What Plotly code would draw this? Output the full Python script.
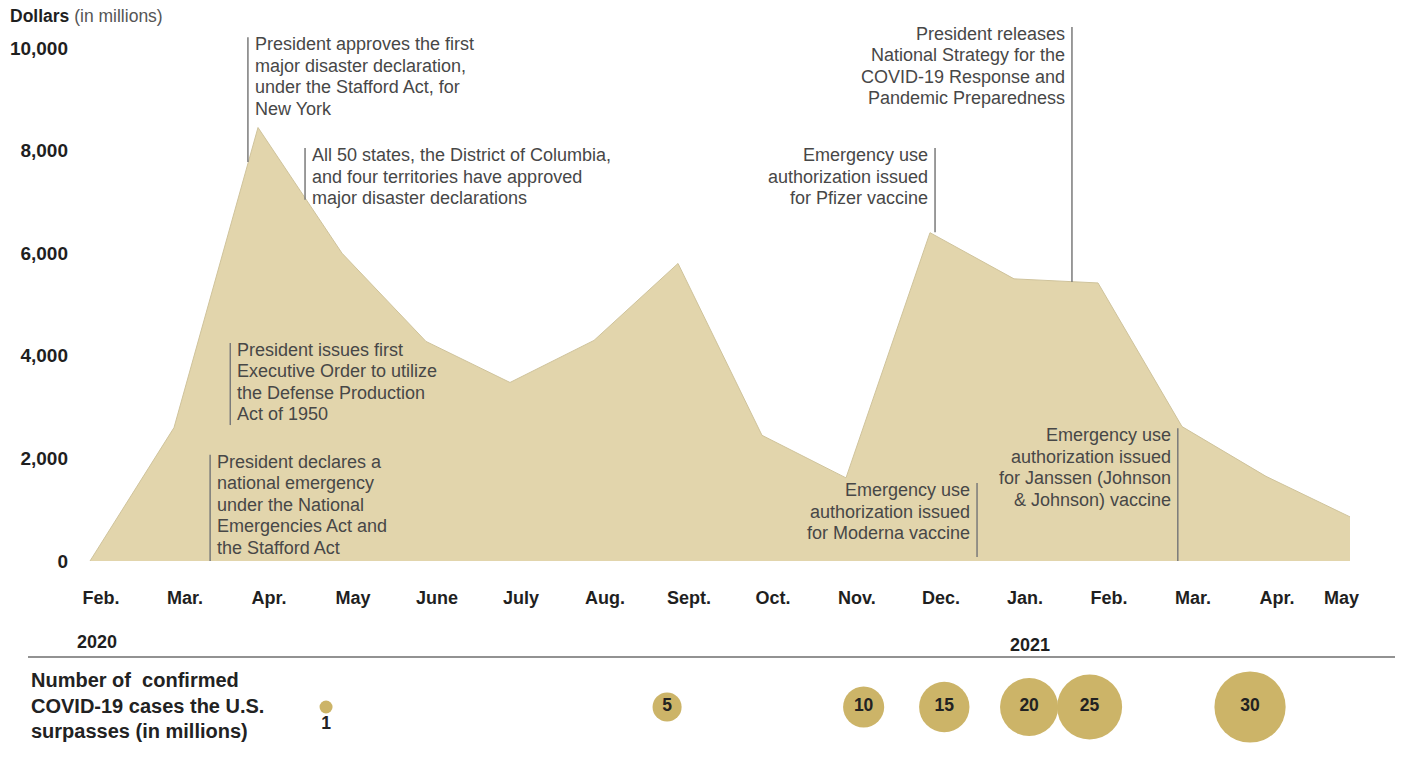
import plotly.graph_objects as go

# ---------------- data ----------------
months = ["Feb.", "Mar.", "Apr.", "May", "June", "July", "Aug.", "Sept.",
          "Oct.", "Nov.", "Dec.", "Jan.", "Feb.", "Mar.", "Apr.", "May"]
dollars = [0, 2600, 8450, 6000, 4280, 3480, 4300, 5800,
           2450, 1620, 6400, 5500, 5420, 2620, 1650, 860]

years = ["2020", "2021"]
year_month_pos = [0.08, 11.19]

y_ticks = [0, 2000, 4000, 6000, 8000, 10000]

event_texts = [
    "President declares a\nnational emergency\nunder the National\nEmergencies Act and\nthe Stafford Act",
    "President issues first\nExecutive Order to utilize\nthe Defense Production\nAct of 1950",
    "President approves the first\nmajor disaster declaration,\nunder the Stafford Act, for\nNew York",
    "All 50 states, the District of Columbia,\nand four territories have approved\nmajor disaster declarations",
    "Emergency use\nauthorization issued\nfor Pfizer vaccine",
    "Emergency use\nauthorization issued\nfor Moderna vaccine",
    "President releases\nNational Strategy for the\nCOVID-19 Response and\nPandemic Preparedness",
    "Emergency use\nauthorization issued\nfor Janssen (Johnson\n& Johnson) vaccine",
]
event_x = [1.43, 1.67, 1.88, 2.56, 10.06, 10.56, 11.69, 12.95]
event_y_low = [0, 2650, 7780, 7040, 6410, 80, 5440, 0]
event_y_high = [2070, 4250, 10210, 8050, 8050, 1520, 10410, 2590]
event_text_side = ["right", "right", "right", "right", "left", "left", "left", "left"]

cases_millions = [1, 5, 10, 15, 20, 25, 30]
cases_x = [2.81, 6.87, 9.21, 10.17, 11.18, 11.90, 13.81]

# ---------------- style ----------------
FONT = "Liberation Sans, Arial, sans-serif"
AREA_FILL = "#E2D5AC"
AREA_LINE = "#CFC39B"
BUBBLE = "#CCB468"
TEXT_DARK = "#1f1f1f"
TEXT_NOTE = "#474747"
RULE = "#7a7a7a"

W, H = 1411, 759
L_MARGIN = 69
X0_PX = 90.0
PX_PER_MONTH = 84.0
ZERO_PX = 561.0
PX_PER_UNIT = 513.0 / 10000.0
AXIS_BOTTOM_PX = 585.0

x_idx = list(range(len(months)))

fig = go.Figure()

fig.add_trace(go.Scatter(
    x=x_idx, y=dollars, mode="lines", fill="tozeroy",
    fillcolor=AREA_FILL, line=dict(color=AREA_LINE, width=1),
    hoverinfo="skip", showlegend=False,
))

fig.add_trace(go.Scatter(
    x=cases_x, y=[0] * len(cases_millions), yaxis="y2",
    mode="markers+text",
    marker=dict(size=cases_millions, sizemode="area", sizeref=0.01183,
                color=BUBBLE, opacity=1, line=dict(width=0)),
    text=[str(v) for v in cases_millions],
    textposition=["bottom center"] + ["middle center"] * (len(cases_millions) - 1),
    textfont=dict(family=FONT, size=17.5, color="#222222", weight="bold"),
    hoverinfo="skip", showlegend=False, cliponaxis=False,
))

shapes = []
annotations = []

LINE_GAP = 21.5
for txt, ex, ylo, yhi, side in zip(event_texts, event_x, event_y_low, event_y_high, event_text_side):
    shapes.append(dict(type="line", xref="x", yref="y", x0=ex, x1=ex, y0=ylo, y1=yhi,
                       line=dict(color=RULE, width=1.5)))
    for k, line in enumerate(txt.split("\n")):
        annotations.append(dict(
            x=ex, y=yhi, xref="x", yref="y", text=line, showarrow=False,
            xanchor="left" if side == "right" else "right", yanchor="middle",
            xshift=5 if side == "right" else -5,
            yshift=-(7 + k * LINE_GAP),
            font=dict(family=FONT, size=18, color=TEXT_NOTE),
        ))

plot_w = W - L_MARGIN
def px_to_paper_x(px):
    return (px - L_MARGIN) / plot_w
def py_to_paper_y(py):
    return (H - py) / H

# axis title
annotations.append(dict(
    x=px_to_paper_x(8), y=py_to_paper_y(16), xref="paper", yref="paper",
    xanchor="left", yanchor="middle", showarrow=False,
    text="<b>Dollars</b> <span style='color:#555555'>(in millions)</span>",
    font=dict(family=FONT, size=17.5, color=TEXT_DARK),
))

# year labels
for yr, pos, py in zip(years, year_month_pos, [642, 645]):
    annotations.append(dict(
        x=pos, y=py_to_paper_y(py), xref="x", yref="paper", text=yr,
        showarrow=False, xanchor="center", yanchor="middle",
        font=dict(family=FONT, size=18, color=TEXT_DARK, weight="bold"),
    ))

# left label for bubble row
bubble_label_lines = ["Number of\u00a0 confirmed", "COVID-19 cases the U.S.", "surpasses (in millions)"]
for k, line in enumerate(bubble_label_lines):
    annotations.append(dict(
        x=px_to_paper_x(29), y=py_to_paper_y(680 + k * 25.5), xref="paper", yref="paper",
        text=line, showarrow=False, xanchor="left", yanchor="middle",
        font=dict(family=FONT, size=20, color="#222222", weight="bold"),
    ))

# horizontal rule
shapes.append(dict(type="line", xref="paper", yref="paper",
                   x0=px_to_paper_x(28), x1=px_to_paper_x(1395),
                   y0=py_to_paper_y(657), y1=py_to_paper_y(657),
                   line=dict(color="#6e6e6e", width=1.5)))

x_range = [-(X0_PX - L_MARGIN) / PX_PER_MONTH, (W - X0_PX) / PX_PER_MONTH]
y_top_val = ZERO_PX / PX_PER_UNIT
y_bot_val = (ZERO_PX - AXIS_BOTTOM_PX) / PX_PER_UNIT
y_domain_bottom = (H - AXIS_BOTTOM_PX) / H

tick_pos = [i + 0.13 for i in x_idx[:-1]] + [x_idx[-1] - 0.1]

fig.update_layout(
    width=W, height=H,
    margin=dict(l=L_MARGIN, r=0, t=0, b=0),
    paper_bgcolor="white", plot_bgcolor="white",
    showlegend=False,
    font=dict(family=FONT),
    xaxis=dict(range=x_range, tickvals=tick_pos, ticktext=months,
               showgrid=False, zeroline=False, showline=False, ticks="",
               tickfont=dict(family=FONT, size=18, color=TEXT_DARK, weight="bold"),
               fixedrange=True),
    yaxis=dict(domain=[y_domain_bottom, 1], range=[y_bot_val, y_top_val],
               tickvals=y_ticks, tickformat=",", showgrid=False, zeroline=False,
               showline=False, ticks="",
               tickfont=dict(family=FONT, size=19, color=TEXT_DARK, weight="bold"),
               fixedrange=True),
    yaxis2=dict(domain=[0, (H - 600) / H], range=[-52 / 159, 107 / 159],
                visible=False, anchor="x", fixedrange=True),
    shapes=shapes,
    annotations=annotations,
)

fig.write_html("out.html", config={"displayModeBar": False},
               post_script="document.body.style.margin='0';")
